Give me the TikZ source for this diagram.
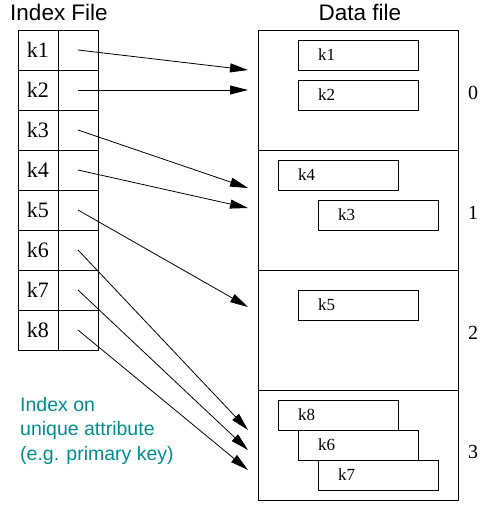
\documentclass[tikz,border=0pt]{standalone}
\usepackage{fontspec}
\setmainfont{Liberation Serif}
\setsansfont{Liberation Sans}
\usetikzlibrary{arrows.meta}
\definecolor{ttqqcc}{rgb}{0,0.55,0.55}

\begin{document}
\begin{tikzpicture}[x=1pt, y=-1pt,
  cell/.style={draw, line width=0.8pt, minimum width=40pt, minimum height=40pt, inner sep=0pt, font=\fontsize{22}{26}\selectfont},
  rec/.style={draw, fill=white, line width=0.8pt, minimum height=30pt, text width=80pt, inner xsep=20pt, inner ysep=0pt, align=left, font=\fontsize{17}{19}\selectfont},
  bucket/.style={draw, line width=0.8pt, minimum width=200pt, inner sep=0pt},
  ptr/.style={line width=0.8pt, -{Triangle[length=18pt,width=9pt]}},
  title/.style={anchor=base, font=\sffamily\fontsize{22.5}{26}\selectfont},
  num/.style={font=\fontsize{20}{24}\selectfont}]
    \useasboundingbox (0,0) rectangle (483,512);
    % index file
    \node[title] (itit) at (59,20) {Index File};
    \node[cell] (k1) at (38,50) {k1};  \node[cell] (p1) at (78,50) {};
    \node[cell] (k2) at (38,90) {k2};  \node[cell] (p2) at (78,90) {};
    \node[cell] (k3) at (38,130) {k3}; \node[cell] (p3) at (78,130) {};
    \node[cell] (k4) at (38,170) {k4}; \node[cell] (p4) at (78,170) {};
    \node[cell] (k5) at (38,210) {k5}; \node[cell] (p5) at (78,210) {};
    \node[cell] (k6) at (38,250) {k6}; \node[cell] (p6) at (78,250) {};
    \node[cell] (k7) at (38,290) {k7}; \node[cell] (p7) at (78,290) {};
    \node[cell] (k8) at (38,330) {k8}; \node[cell] (p8) at (78,330) {};
    \node[anchor=north west, inner sep=0pt, align=left, color=ttqqcc, font=\sffamily\fontsize{19.5}{24.5}\selectfont] (note) at (20,397) {Index on\\unique attribute\\(e.g. primary key)};
    % data file
    \node[title] (dtit) at (360,20) {Data file};
    \node[bucket, minimum height=120pt] (b0) at (358,90) {};
    \node[bucket, minimum height=120pt] (b1) at (358,210) {};
    \node[bucket, minimum height=120pt] (b2) at (358,330) {};
    \node[bucket, minimum height=110pt] (b3) at (358,445) {};
    \node[num] (n0) at (473,93) {0};
    \node[num] (n1) at (473,213) {1};
    \node[num] (n2) at (473,333) {2};
    \node[num] (n3) at (473,452) {3};
    \node[rec] (r1) at (358,55) {k1};
    \node[rec] (r2) at (358,95) {k2};
    \node[rec] (r4) at (338,175) {k4};
    \node[rec] (r3) at (378,215) {k3};
    \node[rec] (r5) at (358,305) {k5};
    \node[rec] (r8) at (338,415) {k8};
    \node[rec] (r6) at (358,445) {k6};
    \node[rec] (r7) at (378,475) {k7};
    % pointers
    \coordinate (t1) at (248,70);
    \coordinate (t2) at (248,90);
    \coordinate (t3) at (248,188);
    \coordinate (t4) at (248,208);
    \coordinate (t5) at (248,307);
    \coordinate (t6) at (248,430);
    \coordinate (t7) at (248,450);
    \coordinate (t8) at (248,470);
    \draw[ptr] (p1.center) -- (t1);
    \draw[ptr] (p2.center) -- (t2);
    \draw[ptr] (p3.center) -- (t3);
    \draw[ptr] (p4.center) -- (t4);
    \draw[ptr] (p5.center) -- (t5);
    \draw[ptr] (p6.center) -- (t6);
    \draw[ptr] (p7.center) -- (t7);
    \draw[ptr] (p8.center) -- (t8);
\end{tikzpicture}
\end{document}
